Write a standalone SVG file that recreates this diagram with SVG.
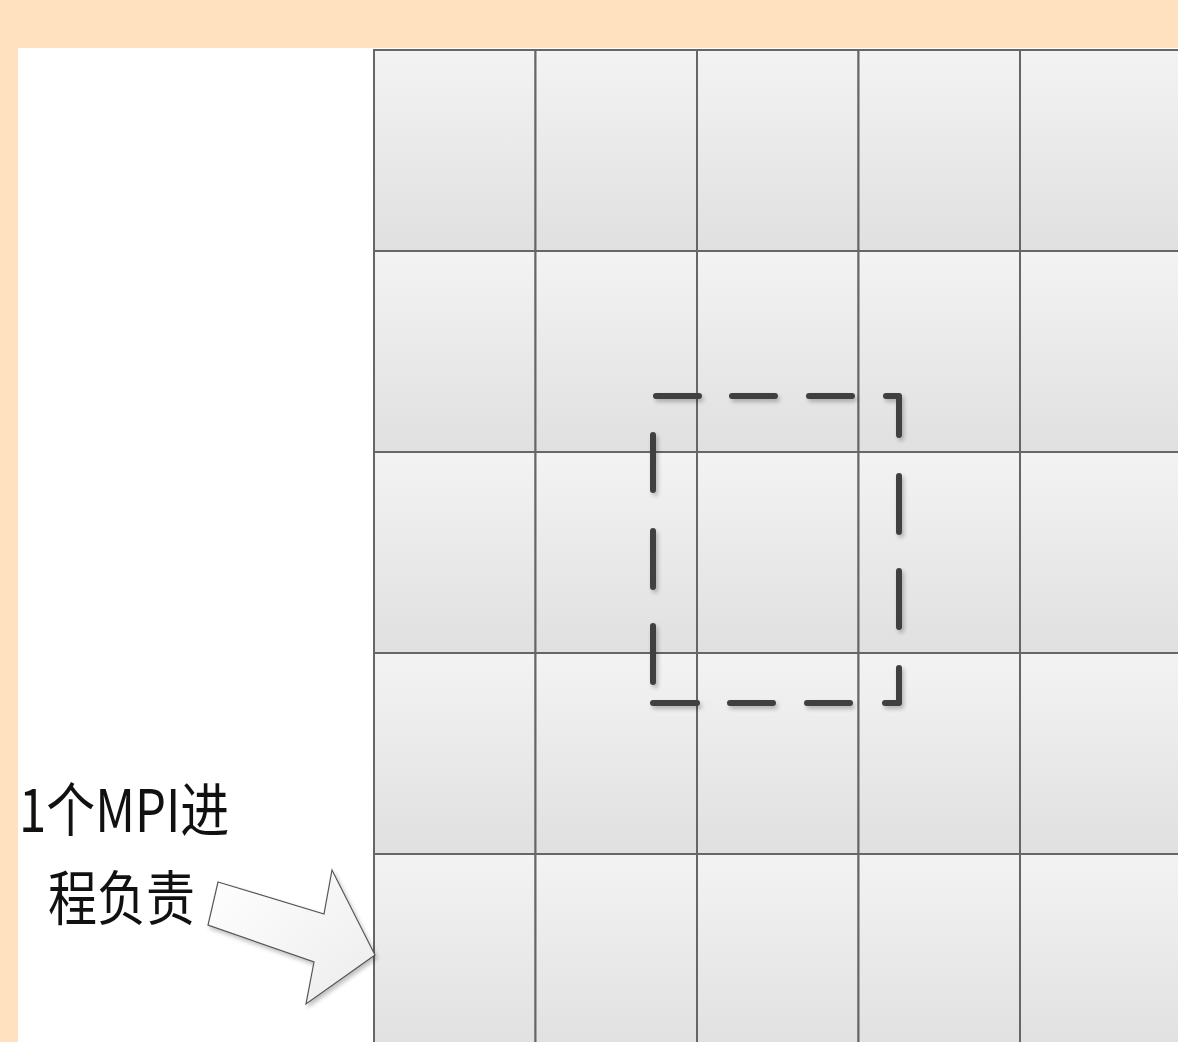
<svg xmlns="http://www.w3.org/2000/svg" width="1178" height="1042" viewBox="0 0 1178 1042">
<style>
.cell{fill:url(#cg);stroke:#666;stroke-width:2}
.lbl{font-family:"Microsoft YaHei","Noto Sans CJK SC","Liberation Sans",sans-serif;font-size:49px;fill:#111}
</style>
<defs>
<linearGradient id="cg" x1="0" y1="0" x2="0" y2="1">
<stop offset="0" stop-color="#f3f3f3"/>
<stop offset="1" stop-color="#e0e0e0"/>
</linearGradient>
<linearGradient id="ag" x1="0" y1="0" x2="1" y2="1">
<stop offset="0" stop-color="#ffffff"/>
<stop offset="1" stop-color="#ececec"/>
</linearGradient>
<filter id="sh" x="-10%" y="-10%" width="130%" height="130%">
<feGaussianBlur in="SourceAlpha" stdDeviation="2"/>
<feOffset dx="2" dy="3"/>
<feComponentTransfer><feFuncA type="linear" slope="0.25"/></feComponentTransfer>
<feMerge><feMergeNode/><feMergeNode in="SourceGraphic"/></feMerge>
</filter>
</defs>
<rect width="1178" height="1042" fill="#ffe0bf"/>
<rect x="18" y="48" width="1160" height="994" fill="#ffffff"/>
<g id="grid">
<g id="c00"><rect class="cell" x="374" y="50" width="161.5" height="201"/></g>
<g id="c01"><rect class="cell" x="535.5" y="50" width="161.5" height="201"/></g>
<g id="c02"><rect class="cell" x="697" y="50" width="161.5" height="201"/></g>
<g id="c03"><rect class="cell" x="858.5" y="50" width="161.5" height="201"/></g>
<g id="c04"><rect class="cell" x="1020" y="50" width="161.5" height="201"/></g>
<g id="c10"><rect class="cell" x="374" y="251" width="161.5" height="201"/></g>
<g id="c11"><rect class="cell" x="535.5" y="251" width="161.5" height="201"/></g>
<g id="c12"><rect class="cell" x="697" y="251" width="161.5" height="201"/></g>
<g id="c13"><rect class="cell" x="858.5" y="251" width="161.5" height="201"/></g>
<g id="c14"><rect class="cell" x="1020" y="251" width="161.5" height="201"/></g>
<g id="c20"><rect class="cell" x="374" y="452" width="161.5" height="201"/></g>
<g id="c21"><rect class="cell" x="535.5" y="452" width="161.5" height="201"/></g>
<g id="c22"><rect class="cell" x="697" y="452" width="161.5" height="201"/></g>
<g id="c23"><rect class="cell" x="858.5" y="452" width="161.5" height="201"/></g>
<g id="c24"><rect class="cell" x="1020" y="452" width="161.5" height="201"/></g>
<g id="c30"><rect class="cell" x="374" y="653" width="161.5" height="201"/></g>
<g id="c31"><rect class="cell" x="535.5" y="653" width="161.5" height="201"/></g>
<g id="c32"><rect class="cell" x="697" y="653" width="161.5" height="201"/></g>
<g id="c33"><rect class="cell" x="858.5" y="653" width="161.5" height="201"/></g>
<g id="c34"><rect class="cell" x="1020" y="653" width="161.5" height="201"/></g>
<g id="c40"><rect class="cell" x="374" y="854" width="161.5" height="201"/></g>
<g id="c41"><rect class="cell" x="535.5" y="854" width="161.5" height="201"/></g>
<g id="c42"><rect class="cell" x="697" y="854" width="161.5" height="201"/></g>
<g id="c43"><rect class="cell" x="858.5" y="854" width="161.5" height="201"/></g>
<g id="c44"><rect class="cell" x="1020" y="854" width="161.5" height="201"/></g>
</g>
<g id="selection" filter="url(#sh)">
<path d="M656,396 H699 M732,396 H775 M809,396 H852 M886,396 H899 V435 M899,476 V532 M899,571 V627 M899,668 V703 H885 M850,703 H807 M773,703 H730 M697,703 H653 M653,682 V626 M653,587 V531 M653,490 V435" fill="none" stroke="#404040" stroke-width="6" stroke-linecap="round" stroke-linejoin="round"/>
</g>
<g id="connectors">
<path d="M218,882 L324,914 L332,870 L375,955 L306,1004 L314,962 L208,925 Z" fill="url(#ag)" stroke="#555" stroke-width="1.2" filter="url(#sh)"/>
</g>
<g id="label">
<text class="lbl" transform="translate(19,832) scale(1,1.2)">1个MPI进</text>
<text class="lbl" transform="translate(48,920) scale(1,1.2)">程负责</text>
</g>
</svg>
